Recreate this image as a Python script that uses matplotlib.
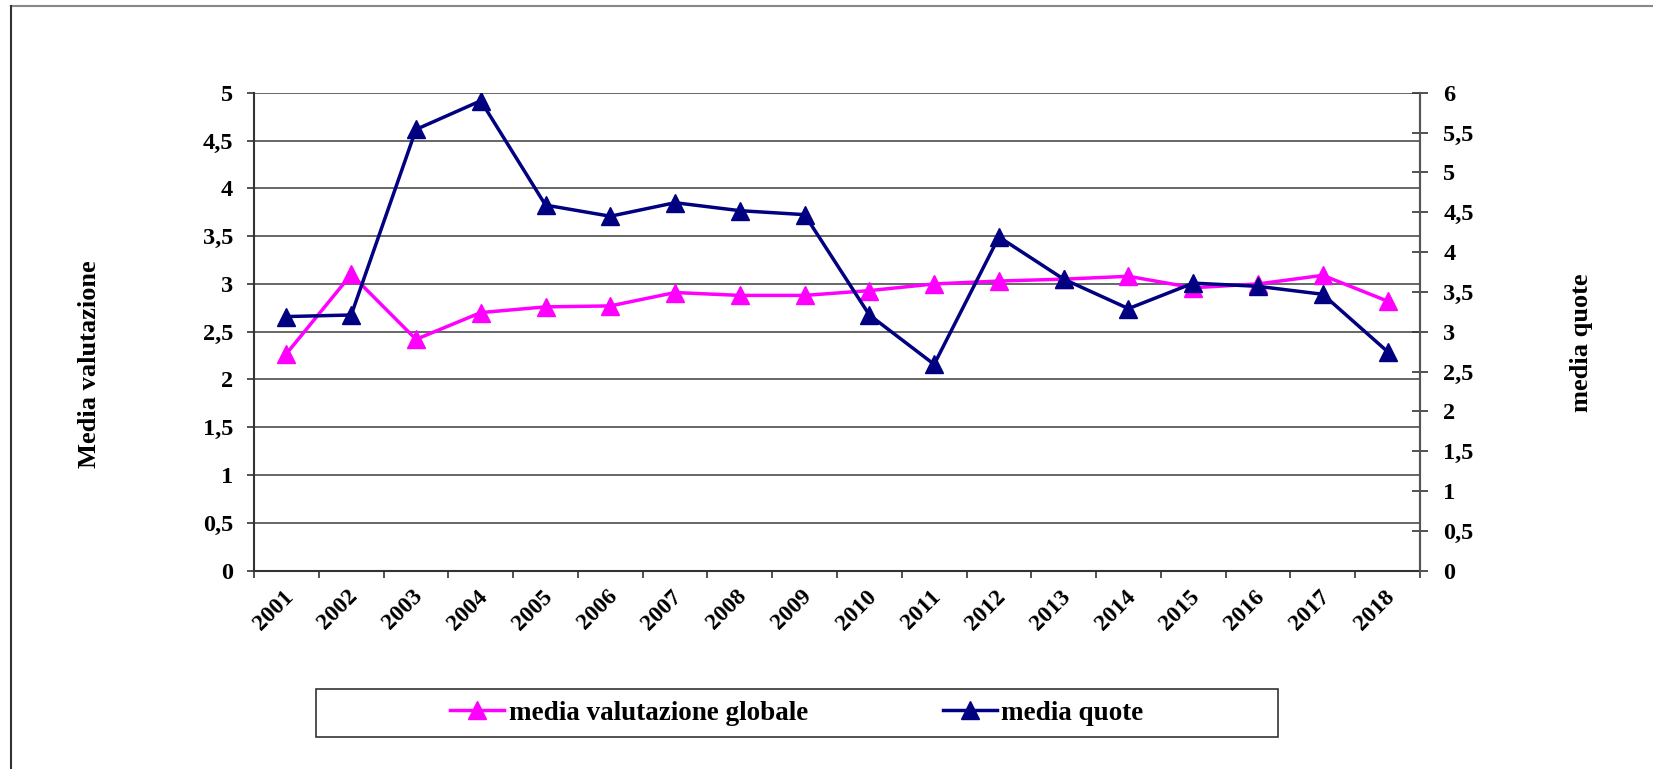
import numpy as np
import matplotlib
matplotlib.use("Agg")
import matplotlib.pyplot as plt
import matplotlib.transforms as mtransforms
from matplotlib.patches import Rectangle
from matplotlib.ticker import MultipleLocator, FuncFormatter

# dati
anni = ["2001", "2002", "2003", "2004", "2005", "2006", "2007", "2008", "2009",
        "2010", "2011", "2012", "2013", "2014", "2015", "2016", "2017", "2018"]
valutazione = [2.27, 3.10, 2.42, 2.70, 2.76, 2.77, 2.91, 2.88, 2.88,
               2.93, 3.00, 3.03, 3.05, 3.08, 2.96, 3.00, 3.09, 2.82]
quote = [3.19, 3.21, 5.54, 5.90, 4.59, 4.45, 4.62, 4.52, 4.47,
         3.21, 2.59, 4.19, 3.66, 3.29, 3.61, 3.57, 3.47, 2.75]

plt.rcParams["font.family"] = ["Liberation Serif", "DejaVu Serif"]
plt.rcParams["font.weight"] = "bold"

MAGENTA = "#FF00FF"
NAVY = "#000080"

fig = plt.figure(figsize=(16.53, 7.69), dpi=100)
ax = fig.add_axes([0.1537, 0.258, 0.859 - 0.1537, 0.8793 - 0.258])
ax2 = ax.twinx()

x = np.arange(len(anni))
ax.plot(x, valutazione, color=MAGENTA, lw=2.5, marker="^", ms=13,
        label="media valutazione globale", zorder=3)
ax2.plot(x, quote, color=NAVY, lw=2.5, marker="^", ms=13,
         label="media quote", zorder=3)

ax.set_xlim(-0.5, len(anni) - 0.5)
ax.set_ylim(0, 5)
ax2.set_ylim(0, 6)

comma = FuncFormatter(lambda v, p: ("%g" % v).replace(".", ","))
ax.yaxis.set_major_locator(MultipleLocator(0.5))
ax.yaxis.set_major_formatter(comma)
ax2.yaxis.set_major_locator(MultipleLocator(0.5))
ax2.yaxis.set_major_formatter(comma)

# griglia orizzontale sull'asse sinistro
ax.grid(axis="y", color="#5a5a5a", lw=1.3)
ax.set_axisbelow(True)

# asse x: tacche ai bordi delle categorie, etichette al centro
ax.set_xticks(np.arange(len(anni) + 1) - 0.5)
ax.set_xticklabels([])
ax.set_xticks(x, minor=True)
ax.set_xticklabels(anni, minor=True, rotation=45, ha="right", va="top",
                   fontsize=17, fontweight="bold")
ax.tick_params(axis="x", which="major", length=5, width=1.2, direction="out", color="#333")
ax.tick_params(axis="x", which="minor", length=0, pad=11)
off = mtransforms.ScaledTranslation(11 / 100, 0, fig.dpi_scale_trans)
for lab in ax.get_xticklabels(minor=True):
    lab.set_transform(lab.get_transform() + off)

ax.tick_params(axis="y", length=5, width=1.2, direction="out", labelsize=17.5, pad=10, color="#333")
ax2.tick_params(axis="y", length=11.5, width=1.2, direction="inout", labelsize=17.5, pad=11, color="#333")
for lab in ax.get_yticklabels() + ax2.get_yticklabels():
    lab.set_fontweight("bold")

for a in (ax, ax2):
    a.spines["top"].set_visible(False)
    a.spines["left"].set_color("#333")
    a.spines["right"].set_color("#555")
    a.spines["bottom"].set_color("#333")
    for s in a.spines.values():
        s.set_linewidth(1.5)
ax2.spines["left"].set_visible(False)
ax2.spines["bottom"].set_visible(False)

fig.text(0.0542, 0.527, "Media valutazione", rotation=90, ha="center", va="center",
         fontsize=19, fontweight="bold")
fig.text(0.9566, 0.554, "media quote", rotation=90, ha="center", va="center",
         fontsize=19, fontweight="bold")

# cornice esterna del grafico
fig.add_artist(plt.Line2D([0.0064, 1.0], [0.992, 0.992], color="#888", lw=1.5,
                          transform=fig.transFigure))
fig.add_artist(plt.Line2D([0.0064, 0.0064], [0.0, 0.992], color="#333", lw=1.5,
                          transform=fig.transFigure))

# legenda
lx0, lx1, ly0, ly1 = 0.1913, 0.773, 0.0412, 0.1043
fig.add_artist(Rectangle((lx0, ly0), lx1 - lx0, ly1 - ly0, transform=fig.transFigure,
                         fill=False, edgecolor="#333", lw=1.2))
h1, l1 = ax.get_legend_handles_labels()
h2, l2 = ax2.get_legend_handles_labels()
fig.legend(h1 + h2, l1 + l2, loc="center", bbox_to_anchor=((lx0 + lx1) / 2, (ly0 + ly1) / 2),
           ncol=2, frameon=False, prop={"size": 19.5, "weight": "bold"},
           handlelength=2.0, handletextpad=0.15, columnspacing=5.0)

fig.savefig("out.png", dpi=100)
